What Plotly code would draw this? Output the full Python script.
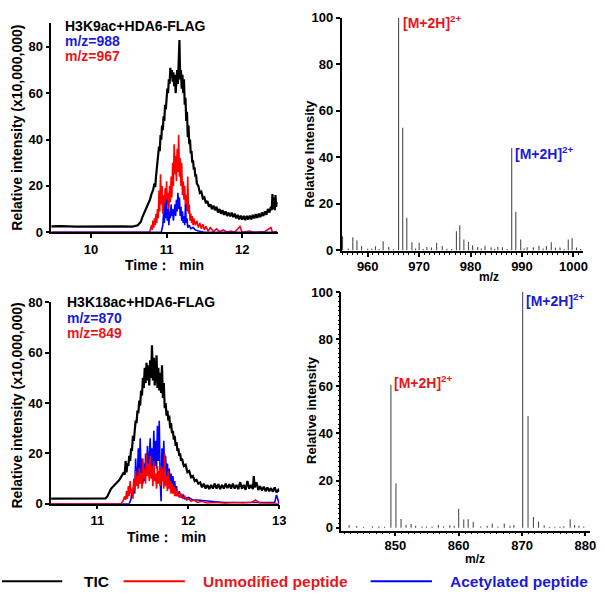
import plotly.graph_objects as go

# ---------------- data: top-left chromatogram (H3K9ac) ----------------
tl_tic_time = [9.47, 9.6, 9.8, 10.0, 10.2, 10.4, 10.55, 10.6, 10.62, 10.64, 10.66, 10.68, 10.70, 10.72, 10.74, 10.76,
               10.78, 10.80, 10.82, 10.84, 10.85, 10.86, 10.87, 10.88, 10.89, 10.90, 10.91, 10.92, 10.93, 10.94, 10.95,
               10.96, 10.97, 10.98, 10.99, 11.00, 11.01, 11.02, 11.03, 11.04, 11.05, 11.06, 11.07, 11.08, 11.09, 11.10,
               11.11, 11.12, 11.13, 11.14, 11.15, 11.16, 11.17, 11.18, 11.19, 11.20, 11.21, 11.22, 11.23, 11.24, 11.25,
               11.26, 11.27, 11.28, 11.29, 11.30, 11.31, 11.32, 11.33, 11.34, 11.35, 11.36, 11.37, 11.38, 11.39, 11.40,
               11.42, 11.44, 11.46, 11.48, 11.50, 11.52, 11.54, 11.56, 11.58, 11.60, 11.62, 11.64, 11.66, 11.68, 11.70,
               11.72, 11.74, 11.76, 11.78, 11.80, 11.82, 11.84, 11.86, 11.88, 11.90, 11.92, 11.94, 11.96, 11.98, 12.00,
               12.02, 12.04, 12.06, 12.08, 12.10, 12.12, 12.14, 12.16, 12.18, 12.20, 12.22, 12.24, 12.26, 12.28, 12.30,
               12.32, 12.34, 12.36, 12.38, 12.39, 12.40, 12.41, 12.42, 12.43, 12.44, 12.45, 12.46]
tl_tic = [2.5, 2.6, 2.4, 2.5, 2.4, 2.5, 2.4, 2.6, 3.0, 3.8, 4.5, 6.5, 8.0, 9.5, 10.8, 12.0,
          14.0, 16.5, 18.0, 21.0, 19.5, 24.0, 27.0, 30.0, 33.0, 37.0, 35.0, 42.0, 40.0, 46.0, 44.0,
          50.0, 48.0, 55.0, 53.0, 58.0, 62.0, 60.0, 66.0, 64.0, 71.0, 67.0, 70.0, 65.0, 69.0, 63.0,
          68.0, 60.0, 66.0, 70.0, 64.0, 72.0, 83.0, 66.0, 70.0, 62.0, 68.0, 60.0, 66.0, 55.0, 58.0,
          48.0, 52.0, 41.0, 46.0, 38.0, 40.0, 34.0, 35.0, 30.0, 31.0, 27.0, 28.0, 24.0, 25.0, 21.0,
          20.0, 17.0, 17.5, 14.5, 15.0, 12.5, 13.5, 11.0, 12.0, 10.0, 11.5, 9.5, 11.0, 8.5, 10.0,
          8.0, 9.5, 7.5, 9.0, 7.0, 8.5, 6.8, 8.5, 6.5, 8.0, 6.0, 7.5, 5.5, 7.2, 5.5,
          7.0, 5.2, 7.0, 5.5, 7.2, 5.5, 7.5, 6.0, 7.8, 6.2, 8.0, 6.5, 8.5, 7.0, 9.0,
          7.5, 10.0, 8.5, 11.0, 9.5, 16.5, 10.0, 15.0, 9.5, 16.0, 11.0, 13.0]

tl_unmod_time = [9.47, 10.76, 10.78, 10.80, 10.81, 10.82, 10.83, 10.84, 10.85, 10.86, 10.87, 10.88, 10.89, 10.90,
                 10.91, 10.92, 10.93, 10.94, 10.95, 10.96, 10.97, 10.98, 10.99, 11.00, 11.01, 11.02, 11.03, 11.04,
                 11.05, 11.06, 11.07, 11.08, 11.09, 11.10, 11.11, 11.12, 11.13, 11.14, 11.15, 11.16, 11.17, 11.18,
                 11.19, 11.20, 11.21, 11.22, 11.23, 11.24, 11.25, 11.26, 11.27, 11.28, 11.29, 11.30, 11.31, 11.32,
                 11.33, 11.34, 11.35, 11.36, 11.38, 11.40, 11.42, 11.44, 11.46, 11.48, 11.50, 11.52, 11.55, 11.58,
                 11.62, 11.66, 11.70, 11.75, 11.80, 11.85, 11.90, 11.97, 12.00, 12.10, 12.15, 12.30, 12.38, 12.40, 12.46]
tl_unmod = [0, 0, 0.5, 3, 1, 5, 2, 6, 3, 8, 4, 10, 6, 18,
            9, 25, 12, 20, 8, 16, 7, 19, 10, 22, 12, 17, 9, 20,
            13, 24, 15, 30, 20, 38, 25, 33, 22, 36, 26, 42, 24, 32,
            20, 30, 16, 22, 14, 20, 11, 16, 9, 24, 8, 12, 5, 8,
            4, 7, 3, 6, 3, 5, 2, 4, 1.5, 3.5, 1, 2.5, 0.5, 2,
            0.3, 1.5, 0.2, 1, 0, 0.5, 0, 2.5, 0, 0.5, 0, 0.3, 2, 0, 0.3]

tl_acet_time = [9.47, 10.93, 10.95, 10.96, 10.97, 10.98, 10.99, 11.00, 11.01, 11.02, 11.03, 11.04, 11.05, 11.06,
                11.07, 11.08, 11.09, 11.10, 11.11, 11.12, 11.13, 11.14, 11.15, 11.16, 11.17, 11.18, 11.19, 11.20,
                11.21, 11.22, 11.23, 11.24, 11.25, 11.26, 11.27, 11.28, 11.30, 11.32, 11.35, 11.38, 11.42, 11.50, 12.46]
tl_acet = [0, 0, 3, 8, 4, 12, 6, 14, 5, 10, 3, 9, 6, 12,
           7, 10, 5, 9, 12, 7, 14, 9, 17, 10, 15, 7, 11, 5,
           9, 4, 7, 3, 12, 4, 6, 2, 3, 1.5, 2, 1, 0.5, 0, 0]

# ---------------- data: bottom-left chromatogram (H3K18ac) ----------------
bl_tic_time = [10.49, 10.7, 10.9, 11.05, 11.09, 11.11, 11.13, 11.15, 11.17, 11.19, 11.21, 11.23, 11.25, 11.27, 11.29,
               11.30, 11.31, 11.32, 11.33, 11.34, 11.35, 11.36, 11.37, 11.38, 11.39, 11.40, 11.41, 11.42, 11.43, 11.44,
               11.45, 11.46, 11.47, 11.48, 11.49, 11.50, 11.51, 11.52, 11.53, 11.54, 11.55, 11.56, 11.57, 11.58, 11.59,
               11.60, 11.61, 11.62, 11.63, 11.64, 11.65, 11.66, 11.67, 11.68, 11.69, 11.70, 11.71, 11.72, 11.73, 11.74,
               11.75, 11.76, 11.77, 11.78, 11.79, 11.80, 11.81, 11.82, 11.83, 11.84, 11.85, 11.86, 11.87, 11.88, 11.89,
               11.90, 11.91, 11.92, 11.93, 11.95, 11.97, 11.99, 12.01, 12.03, 12.05, 12.07, 12.09, 12.11, 12.13, 12.15,
               12.17, 12.19, 12.21, 12.23, 12.25, 12.27, 12.29, 12.31, 12.33, 12.35, 12.37, 12.39, 12.41, 12.43, 12.45,
               12.47, 12.49, 12.51, 12.53, 12.55, 12.57, 12.59, 12.61, 12.63, 12.65, 12.67, 12.69, 12.71, 12.72, 12.73,
               12.75, 12.77, 12.79, 12.81, 12.83, 12.85, 12.87, 12.89, 12.91, 12.93, 12.95, 12.97, 12.99, 13.0]
bl_tic = [2.0, 2.0, 2.0, 2.0, 2.1, 3.0, 4.5, 6.0, 6.8, 7.5, 8.0, 9.0, 10.0, 11.0, 12.5,
          11.5, 17.0, 12.5, 16.0, 15.0, 19.0, 17.0, 22.0, 21.0, 27.0, 25.0, 30.0, 33.0, 32.0, 37.0,
          36.0, 41.0, 39.0, 45.0, 43.0, 50.0, 46.0, 54.0, 48.0, 56.0, 49.0, 55.0, 47.0, 57.0, 50.0,
          63.0, 49.0, 58.0, 47.0, 56.0, 59.0, 46.0, 54.0, 45.0, 52.0, 44.0, 55.0, 42.0, 48.0, 38.0,
          40.0, 35.0, 37.0, 33.0, 35.0, 30.0, 32.0, 28.0, 29.0, 25.5, 27.0, 23.0, 24.5, 21.0, 22.0,
          19.0, 20.0, 17.0, 18.0, 15.0, 15.5, 12.5, 13.0, 10.5, 11.0, 9.0, 9.5, 8.0, 8.5, 6.5,
          8.0, 6.0, 7.5, 5.8, 7.5, 6.0, 8.0, 6.0, 7.8, 5.8, 7.5, 6.0, 8.0, 6.2, 7.8,
          6.0, 8.0, 6.0, 7.5, 5.8, 8.5, 6.0, 7.5, 5.5, 9.0, 6.0, 7.5, 5.8, 11.0, 6.5,
          8.5, 5.5, 7.0, 5.2, 6.8, 5.0, 6.5, 5.0, 6.2, 4.8, 6.5, 4.5, 5.5, 4.8]

bl_unmod_time = [10.49, 11.26, 11.28, 11.30, 11.31, 11.32, 11.33, 11.34, 11.35, 11.36, 11.37, 11.38, 11.39, 11.40,
                 11.41, 11.42, 11.43, 11.44, 11.45, 11.46, 11.47, 11.48, 11.49, 11.50, 11.51, 11.52, 11.53, 11.54,
                 11.55, 11.56, 11.57, 11.58, 11.59, 11.60, 11.61, 11.62, 11.63, 11.64, 11.65, 11.66, 11.67, 11.68,
                 11.69, 11.70, 11.71, 11.72, 11.73, 11.74, 11.75, 11.76, 11.77, 11.78, 11.79, 11.80, 11.81, 11.82,
                 11.83, 11.84, 11.85, 11.86, 11.87, 11.88, 11.90, 11.92, 11.94, 11.96, 11.98, 12.00, 12.03, 12.06,
                 12.10, 12.15, 12.20, 12.30, 12.40, 12.50, 12.60, 12.70, 12.74, 12.78, 12.90, 13.0]
bl_unmod = [0, 0, 1, 3, 1.5, 5, 2, 7, 3, 9, 4, 6, 2, 10,
            5, 13, 7, 11, 6, 14, 8, 12, 6, 18, 10, 14, 8, 20,
            11, 16, 9, 19, 10, 15, 7, 17, 9, 12, 6, 15, 8, 13,
            7, 15, 9, 14, 6, 20, 7, 11, 5, 13, 6, 9, 4, 8,
            4, 7, 3, 6, 3, 5, 2.5, 4, 2, 3, 1.5, 2, 1, 1.5,
            0.5, 1, 0.3, 0.5, 0.2, 0.5, 0.3, 0.6, 1.5, 0.3, 0.2, 0]

bl_acet_time = [10.49, 11.35, 11.37, 11.38, 11.39, 11.40, 11.41, 11.42, 11.43, 11.44, 11.45, 11.46, 11.47, 11.48,
                11.49, 11.50, 11.51, 11.52, 11.53, 11.54, 11.55, 11.56, 11.57, 11.58, 11.59, 11.60, 11.61, 11.62,
                11.63, 11.64, 11.65, 11.66, 11.67, 11.68, 11.69, 11.70, 11.71, 11.72, 11.73, 11.74, 11.75, 11.76,
                11.77, 11.78, 11.79, 11.80, 11.81, 11.82, 11.83, 11.84, 11.85, 11.86, 11.87, 11.88, 11.90, 11.92,
                11.94, 11.96, 12.00, 12.05, 12.10, 12.20, 12.30, 12.40, 12.60, 12.80, 12.95, 12.97, 12.99, 13.0]
bl_acet = [0, 0, 2, 5, 3, 9, 4, 18, 8, 12, 22, 10, 26, 12,
           18, 8, 16, 9, 20, 11, 23, 12, 19, 26, 13, 22, 12, 29,
           15, 25, 14, 31, 17, 33, 10, 1, 22, 12, 25, 11, 19, 9,
           16, 8, 14, 6, 12, 5, 11, 5, 9, 4, 7, 3, 5, 2.5,
           3.5, 2, 2.5, 1.5, 1.5, 1, 0.8, 0.5, 0.5, 0.3, 0.5, 3.5, 1, 0]

# ---------------- data: top-right spectrum (m/z 967 / 988) ----------------
tr_mz = [955.1, 956.2, 957.1, 957.9, 958.8, 960.0, 960.8, 961.5, 962.2, 963.0, 964.1, 965.0, 966.0, 966.8, 967.6,
         968.6, 969.3, 970.0, 970.8, 971.5, 972.4, 973.4, 974.5, 975.4, 976.3, 977.25, 977.9, 978.7, 979.6, 980.4,
         981.4, 982.1, 982.8, 984.0, 984.7, 985.3, 986.2, 987.1, 988.0, 988.8, 989.75, 990.4, 991.0, 992.2, 993.3,
         994.1, 994.75, 995.7, 996.5, 997.4, 998.2, 999.0, 999.75, 1000.6, 1001.4]
tr_int = [6.0, 0.8, 5.6, 4.2, 1.8, 0.7, 0.8, 1.7, 0.6, 3.9, 1.4, 0.6, 100.0, 52.7, 14.0,
          3.5, 0.8, 3.2, 0.6, 1.4, 1.2, 3.2, 1.8, 0.7, 0.6, 8.2, 10.8, 4.6, 3.6, 2.2,
          1.4, 0.8, 2.0, 1.3, 0.7, 1.5, 1.3, 0.6, 44.0, 16.6, 4.6, 0.8, 1.3, 1.3, 2.0,
          0.8, 1.8, 3.5, 1.2, 1.2, 0.6, 4.6, 5.2, 1.2, 0.6]

# ---------------- data: bottom-right spectrum (m/z 849 / 870) ----------------
br_mz = [842.7, 843.9, 845.0, 846.4, 847.4, 848.3, 849.3, 850.1, 850.9, 851.7, 852.5, 853.2, 854.2, 854.9,
         855.8, 856.8, 857.6, 858.6, 859.3, 860.0, 860.8, 861.5, 862.3, 863.5, 864.5, 865.3, 866.2, 867.2,
         868.1, 868.7, 870.1, 870.95, 871.8, 872.6, 873.5, 874.3, 875.2, 876.0, 876.6, 877.6, 878.3, 879.0, 879.75]
br_int = [1.0, 0.7, 0.4, 0.6, 0.5, 0.4, 60.7, 18.9, 3.7, 1.2, 1.6, 0.8, 0.5, 0.5,
          0.5, 1.2, 0.6, 1.1, 0.7, 8.1, 3.5, 3.6, 2.5, 0.5, 0.8, 1.8, 0.5, 1.8,
          0.8, 1.2, 100.0, 47.4, 4.5, 2.6, 1.0, 0.4, 0.4, 0.4, 0.6, 3.6, 1.2, 0.8, 0.5]

# tick values
tl_xticks = [10, 11, 12]
bl_xticks = [11, 12, 13]
chrom_yticks = [0, 20, 40, 60, 80]
tr_xticks = [960, 970, 980, 990, 1000]
br_xticks = [850, 860, 870, 880]
spec_yticks = [0, 20, 40, 60, 80, 100]

# ---------------- styling ----------------
W, H = 605, 599
FONT = "Liberation Sans, Arial, Helvetica, sans-serif"
RED_LINE, BLUE_LINE = "#ff0000", "#0000ff"
RED_TXT, BLUE_TXT = "#e8161c", "#1a1ad8"
SPEC = "#4d4d4d"


def xd(a, b):
    return [a / W, b / W]


def yd(top, bottom):
    return [1 - bottom / H, 1 - top / H]


def px(x):
    return x / W


def py(y):
    return 1 - y / H


def sticks(mz, inten):
    xs, ys = [], []
    for m, v in zip(mz, inten):
        xs += [m, m, None]
        ys += [0, v, None]
    return xs, ys


fig = go.Figure()

# top-left
fig.add_trace(go.Scatter(x=tl_tic_time, y=tl_tic, mode="lines", line=dict(color="black", width=2.2),
                         xaxis="x", yaxis="y", showlegend=False))
fig.add_trace(go.Scatter(x=tl_unmod_time, y=tl_unmod, mode="lines", line=dict(color=RED_LINE, width=1.6),
                         xaxis="x", yaxis="y", showlegend=False))
fig.add_trace(go.Scatter(x=tl_acet_time, y=tl_acet, mode="lines", line=dict(color=BLUE_LINE, width=1.6),
                         xaxis="x", yaxis="y", showlegend=False))
# bottom-left
fig.add_trace(go.Scatter(x=bl_tic_time, y=bl_tic, mode="lines", line=dict(color="black", width=2.2),
                         xaxis="x3", yaxis="y3", showlegend=False))
fig.add_trace(go.Scatter(x=bl_acet_time, y=bl_acet, mode="lines", line=dict(color=BLUE_LINE, width=1.6),
                         xaxis="x3", yaxis="y3", showlegend=False))
fig.add_trace(go.Scatter(x=bl_unmod_time, y=bl_unmod, mode="lines", line=dict(color=RED_LINE, width=1.6),
                         xaxis="x3", yaxis="y3", showlegend=False))
# spectra
sx, sy = sticks(tr_mz, tr_int)
fig.add_trace(go.Scatter(x=sx, y=sy, mode="lines", line=dict(color=SPEC, width=1.1),
                         xaxis="x2", yaxis="y2", showlegend=False, connectgaps=False))
sx, sy = sticks(br_mz, br_int)
fig.add_trace(go.Scatter(x=sx, y=sy, mode="lines", line=dict(color=SPEC, width=1.1),
                         xaxis="x4", yaxis="y4", showlegend=False, connectgaps=False))

tickfont = dict(family=FONT, size=13, color="black", weight="bold")
common = dict(showline=True, linecolor="black", linewidth=1.5, ticks="outside", ticklen=4, tickwidth=1.5,
              tickcolor="black", showgrid=False, zeroline=False, tickfont=tickfont, fixedrange=True)
minor_x = dict(dtick=1, ticklen=2, tickwidth=1, tickcolor="black", ticks="outside")

fig.update_layout(
    width=W, height=H, margin=dict(l=0, r=0, t=0, b=0),
    paper_bgcolor="white", plot_bgcolor="white", showlegend=False,
    xaxis=dict(domain=xd(52, 281), range=[9.477, 12.47], tickvals=tl_xticks, anchor="y", **common),
    yaxis=dict(domain=yd(16, 231), range=[0, 90.5], tickvals=chrom_yticks, anchor="x", **common),
    xaxis2=dict(domain=xd(345.5, 590), range=[954.9, 1001.9], tickvals=tr_xticks, anchor="y2",
                minor=minor_x, ticklabelstandoff=-2, **common),
    yaxis2=dict(domain=yd(11, 250.5), range=[-0.4, 100], tickvals=spec_yticks, anchor="x2", **common),
    xaxis3=dict(domain=xd(51.7, 282.5), range=[10.49, 13.0], tickvals=bl_xticks, anchor="y3", **common),
    yaxis3=dict(domain=yd(303, 509.5), range=[0, 80], tickvals=chrom_yticks, anchor="x3", **common),
    xaxis4=dict(domain=xd(345.3, 596.7), range=[841.47, 880.7], tickvals=br_xticks, anchor="y4",
                minor=minor_x, ticklabelstandoff=-2, **common),
    yaxis4=dict(domain=yd(292.3, 537), range=[-1.2, 100], tickvals=spec_yticks, anchor="x4",
                minor=dict(dtick=2, ticklen=2, tickwidth=1, tickcolor="black", ticks="outside"), **common),
)


def note(text, x, y, size=14, color="black", xanchor="left", angle=0, yanchor="middle"):
    fig.add_annotation(text=text, x=px(x), y=py(y), xref="paper", yref="paper", showarrow=False,
                       xanchor=xanchor, yanchor=yanchor, textangle=angle,
                       font=dict(family=FONT, size=size, color=color, weight="bold"))


# panel labels
note("H3K9ac+HDA6-FLAG", 64, 19.5)
note("m/z=988", 64, 35, color=BLUE_TXT)
note("m/z=967", 64, 50.5, color=RED_TXT)
note("H3K18ac+HDA6-FLAG", 66, 303)
note("m/z=870", 66, 319, color=BLUE_TXT)
note("m/z=849", 66, 334.5, color=RED_TXT)

# axis titles
note("Relative intensity (x10,000,000)", 17, 124, size=14, xanchor="center", angle=-90)
note("Relative intensity (x10,000,000)", 17, 409, size=14, xanchor="center", angle=-90)
note("Relative Intensity", 313, 150, size=13, xanchor="center", angle=-90)
note("Relative intensity", 315, 413, size=13, xanchor="center", angle=-90)
note("Time：  min", 166, 265, size=14, xanchor="center")
note("Time：  min", 168, 544, size=14, xanchor="center")
note("m/z", 495, 277, size=12, xanchor="center")
note("m/z", 481, 566, size=12, xanchor="center")

# peak labels
note("[M+2H]<sup>2+</sup>", 406, 15, size=14, color=RED_TXT)
note("[M+2H]<sup>2+</sup>", 519, 150, size=14, color=BLUE_TXT)
note("[M+2H]<sup>2+</sup>", 397, 385, size=14, color=RED_TXT)
note("[M+2H]<sup>2+</sup>", 530, 301, size=14, color=BLUE_TXT)

# legend row
LEG_Y = 589
for (x0, x1, col) in [(2, 63, "black"), (125, 187, RED_LINE), (375, 437, BLUE_LINE)]:
    fig.add_shape(type="line", xref="paper", yref="paper", x0=px(x0), x1=px(x1), y0=py(LEG_Y), y1=py(LEG_Y),
                  line=dict(color=col, width=2))
note("TIC", 83, LEG_Y, size=15.5)
note("Unmodified peptide", 203, LEG_Y, size=15.5, color=RED_TXT)
note("Acetylated peptide", 453, LEG_Y, size=15.5, color=BLUE_TXT)

fig.write_html("out.html", config={"displayModeBar": False},
               post_script="document.body.style.margin='0px';")
